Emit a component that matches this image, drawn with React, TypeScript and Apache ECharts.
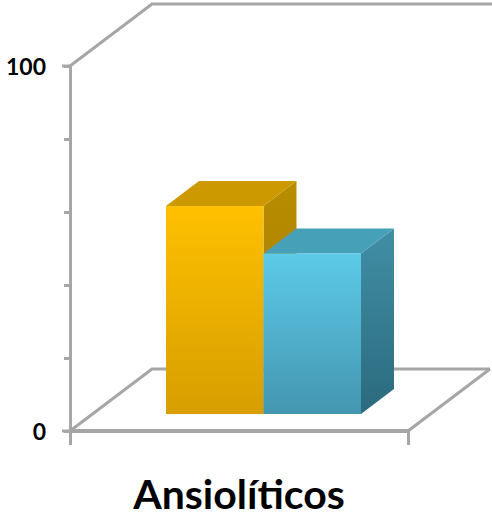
import React, { useEffect, useRef } from "react";
import * as echarts from "echarts";

const categories = ["Ansiolíticos"];
const barValues = [57, 44];
const valueMin = 0;
const valueMax = 100;
const valueStep = 20;

const frontColors = [
  ["#FFC000", "#D69E00"],
  ["#5CCAE8", "#4496B0"],
];
const topColors = ["#CC9A00", "#46A0B8"];
const sideColors = [
  ["#B88C00", "#A67E00"],
  ["#418FA5", "#2B6A7E"],
];

const AXIS_GREY = "#A6A6A6";
// Receding direction of the pseudo-3D box
const WALL_DX = 82;
const WALL_DY = -62;
const BAR_DX = 33;
const BAR_DY = -25;
// Where the bars stand on the floor relative to the front axis corner
const FLOOR_DX = 24.5;
const FLOOR_DY = -17;
const BAR_WIDTH = 97.5;

const linear = (c: string[]) => ({
  type: "linear",
  x: 0,
  y: 0,
  x2: 0,
  y2: 1,
  colorStops: [
    { offset: 0, color: c[0] },
    { offset: 1, color: c[1] },
  ],
});

export default function App() {
  const ref = useRef<HTMLDivElement>(null);

  useEffect(() => {
    document.body.style.margin = "0";
    const chart = echarts.init(ref.current!, undefined, { renderer: "svg" });

    const frameItem = (_: any, api: any) => {
      const o = api.coord([0, valueMin]);
      const t = api.coord([0, valueMax]);
      const w = api.size([1, 0])[0];
      const x0 = o[0] - w / 2;
      const x1 = o[0] + w / 2;
      const lineStyle = { stroke: AXIS_GREY, lineWidth: 3, fill: "none" };
      const poly = (points: number[][]) => ({ type: "polyline", shape: { points }, style: lineStyle, silent: true });
      return {
        type: "group",
        children: [
          poly([[x0, o[1]], [x0 + WALL_DX, o[1] + WALL_DY], [x1 + WALL_DX, o[1] + WALL_DY]]),
          poly([[x1, o[1]], [x1 + WALL_DX, o[1] + WALL_DY]]),
          poly([[x0, t[1]], [x0 + WALL_DX, t[1] + WALL_DY], [x1 + WALL_DX + 2, t[1] + WALL_DY]]),
          poly([[x0 - 8, o[1]], [x0, o[1]]]),
          poly([[x0 - 8, t[1]], [x0, t[1]]]),
        ],
      };
    };

    const barItem = (params: any, api: any) => {
      const i = params.dataIndex;
      const base = api.coord([0, valueMin]);
      const head = api.coord([0, api.value(1)]);
      const groupLeft = base[0] - BAR_WIDTH + FLOOR_DX;
      const l = groupLeft + i * BAR_WIDTH;
      const r = l + BAR_WIDTH;
      const b = base[1] + FLOOR_DY;
      const t = head[1] + FLOOR_DY;
      const poly = (points: number[][], fill: any) => ({
        type: "polygon",
        shape: { points },
        style: { fill },
        silent: true,
      });
      return {
        type: "group",
        children: [
          poly([[r, t], [r + BAR_DX, t + BAR_DY], [r + BAR_DX, b + BAR_DY], [r, b]], linear(sideColors[i])),
          poly([[l, t], [l + BAR_DX, t + BAR_DY], [r + BAR_DX, t + BAR_DY], [r, t]], topColors[i]),
          poly([[l, t], [r, t], [r, b], [l, b]], linear(frontColors[i])),
        ],
      };
    };

    chart.setOption({
      animation: false,
      grid: { left: 70, top: 66, width: 338, height: 365, containLabel: false },
      xAxis: {
        type: "category",
        data: categories,
        axisLine: { lineStyle: { color: AXIS_GREY, width: 4 } },
        axisTick: { show: true, length: 14, lineStyle: { color: AXIS_GREY, width: 3 } },
        axisLabel: {
          margin: 42,
          color: "#000",
          fontFamily: "Lato",
          fontWeight: 700,
          fontSize: 41,
          lineHeight: 40,
        },
      },
      yAxis: {
        type: "value",
        min: valueMin,
        max: valueMax,
        interval: valueStep,
        splitLine: { show: false },
        axisLine: { show: true, lineStyle: { color: AXIS_GREY, width: 3 } },
        axisTick: { show: true, length: 6, lineStyle: { color: AXIS_GREY, width: 3 } },
        axisLabel: {
          margin: 24,
          color: "#000",
          fontFamily: "Lato",
          fontWeight: 700,
          fontSize: 23,
          padding: [5, 0, 0, 0],
          formatter: (v: number) => (v === valueMin || v === valueMax ? String(v) : ""),
        },
      },
      series: [
        { type: "custom", data: [[0, 0]], renderItem: frameItem, clip: false, silent: true, z: 1 },
        {
          type: "custom",
          data: barValues.map((v) => [0, v]),
          encode: { x: 0, y: 1 },
          renderItem: barItem,
          clip: false,
          silent: true,
          z: 2,
        },
      ],
    });

    return () => chart.dispose();
  }, []);

  return <div ref={ref} style={{ width: 492, height: 516 }} />;
}
